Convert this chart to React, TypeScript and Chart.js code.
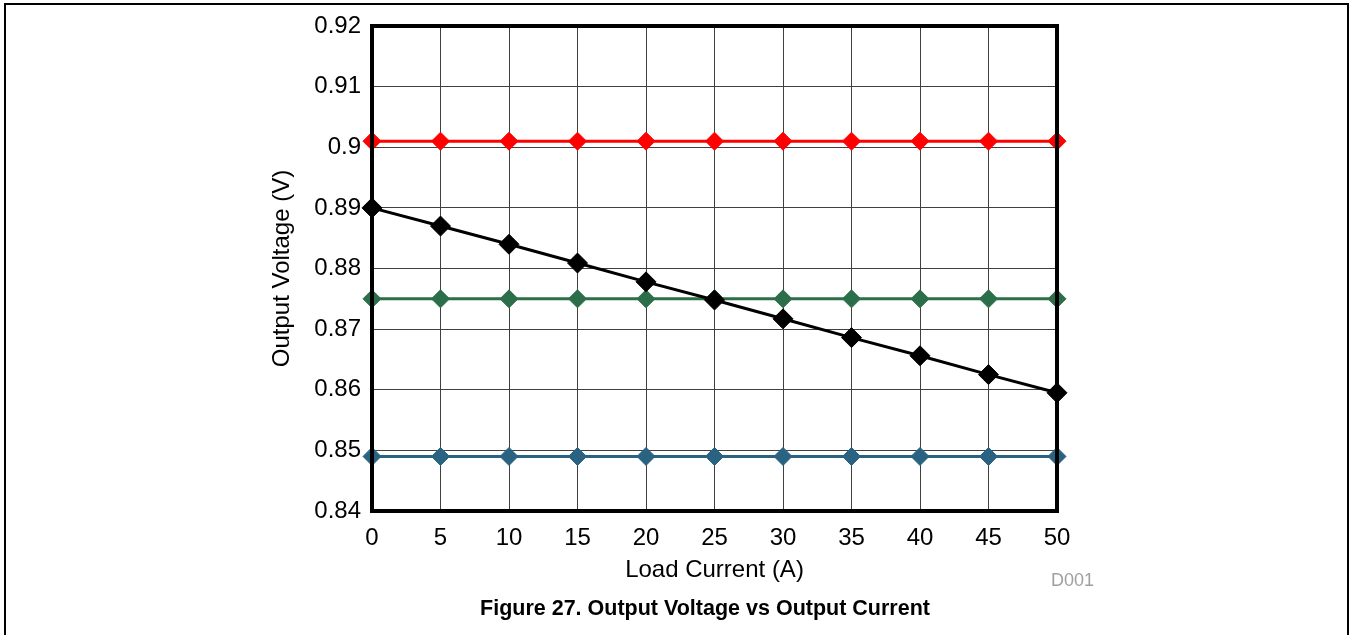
import React, { useEffect, useRef } from "react";
import { Chart, registerables } from "chart.js";

Chart.register(...registerables);

const loadCurrent = [0, 5, 10, 15, 20, 25, 30, 35, 40, 45, 50];
const vBlack = [0.89, 0.887, 0.884, 0.8809, 0.8778, 0.8748, 0.8717, 0.8686, 0.8656, 0.8625, 0.8595];
const vRed = [0.901, 0.901, 0.901, 0.901, 0.901, 0.901, 0.901, 0.901, 0.901, 0.901, 0.901];
const vGreen = [0.875, 0.875, 0.875, 0.875, 0.875, 0.875, 0.875, 0.875, 0.875, 0.875, 0.875];
const vBlue = [0.849, 0.849, 0.849, 0.849, 0.849, 0.849, 0.849, 0.849, 0.849, 0.849, 0.849];

const seriesColors = ["#000000", "#ff0000", "#2c6e49", "#2a6282"];
const seriesRadius = [10, 9, 9, 9];
const xTitle = "Load Current (A)";
const yTitle = "Output Voltage (V)";
const caption = "Figure 27. Output Voltage vs Output Current";
const docId = "D001";

const FONT = "Arial, 'Liberation Sans', Helvetica, sans-serif";

const framePlugin = {
  id: "framePlugin",
  afterDatasetsDraw(chart: any) {
    const { ctx, chartArea } = chart;
    ctx.save();
    ctx.strokeStyle = "#000";
    ctx.lineWidth = 4;
    ctx.strokeRect(chartArea.left, chartArea.top, chartArea.right - chartArea.left, chartArea.bottom - chartArea.top);
    ctx.restore();
  },
  afterDraw(chart: any) {
    const { ctx } = chart;
    ctx.save();
    ctx.strokeStyle = "#000";
    ctx.lineWidth = 2;
    ctx.strokeRect(5, 4, 1343, 660);
    ctx.fillStyle = "#a0a0a0";
    ctx.font = `18px ${FONT}`;
    ctx.textAlign = "right";
    ctx.textBaseline = "middle";
    ctx.fillText(docId, 1094, 581);
    ctx.fillStyle = "#000";
    ctx.font = `bold 21.5px ${FONT}`;
    ctx.textAlign = "center";
    ctx.fillText(caption, 705, 609);
    ctx.restore();
  },
};

function makeDataset(data: number[], i: number) {
  const color = seriesColors[i];
  return {
    data: loadCurrent.map((x, k) => ({ x, y: data[k] })),
    borderColor: color,
    backgroundColor: color,
    borderWidth: 3,
    pointStyle: "rectRot",
    pointRadius: seriesRadius[i],
    pointBorderWidth: 1,
    pointBorderColor: color,
    pointBackgroundColor: color,
    tension: 0,
    clip: false as any,
  };
}

export default function App() {
  const ref = useRef<HTMLCanvasElement>(null);
  useEffect(() => {
    if (!ref.current) return;
    const chart = new Chart(ref.current, {
      type: "line",
      data: {
        datasets: [
          makeDataset(vBlack, 0),
          makeDataset(vRed, 1),
          makeDataset(vGreen, 2),
          makeDataset(vBlue, 3),
        ],
      },
      options: {
        responsive: false,
        animation: false,
        layout: { padding: { left: 260, top: 26, right: 295, bottom: 46.6 } },
        plugins: { legend: { display: false }, tooltip: { enabled: false } },
        scales: {
          x: {
            type: "linear",
            min: 0,
            max: 50,
            afterFit: (s: any) => { s.height = 77.4; },
            ticks: { stepSize: 5, padding: 13, color: "#000", font: { family: FONT, size: 24 } },
            grid: { color: "#404040", lineWidth: 1, drawTicks: false },
            border: { display: false },
            title: { display: true, text: xTitle, color: "#000", font: { family: FONT, size: 24 }, padding: { top: 0, bottom: 4 } },
          },
          y: {
            min: 0.84,
            max: 0.92,
            afterFit: (s: any) => { s.width = 112; },
            ticks: {
              stepSize: 0.01,
              padding: 11,
              color: "#000",
              font: { family: FONT, size: 24 },
              callback: (v: any) => String(Number(Number(v).toFixed(2))),
            },
            grid: { color: "#404040", lineWidth: 1, drawTicks: false },
            border: { display: false },
            title: { display: true, text: yTitle, color: "#000", font: { family: FONT, size: 24 }, padding: { top: 8, bottom: 0 } },
          },
        },
      },
      plugins: [framePlugin],
    });
    return () => chart.destroy();
  }, []);
  return (
    <div style={{ position: "fixed", left: 0, top: 0, width: 1352, height: 635, background: "#fff" }}>
      <canvas ref={ref} width={1352} height={635} style={{ display: "block" }} />
    </div>
  );
}
